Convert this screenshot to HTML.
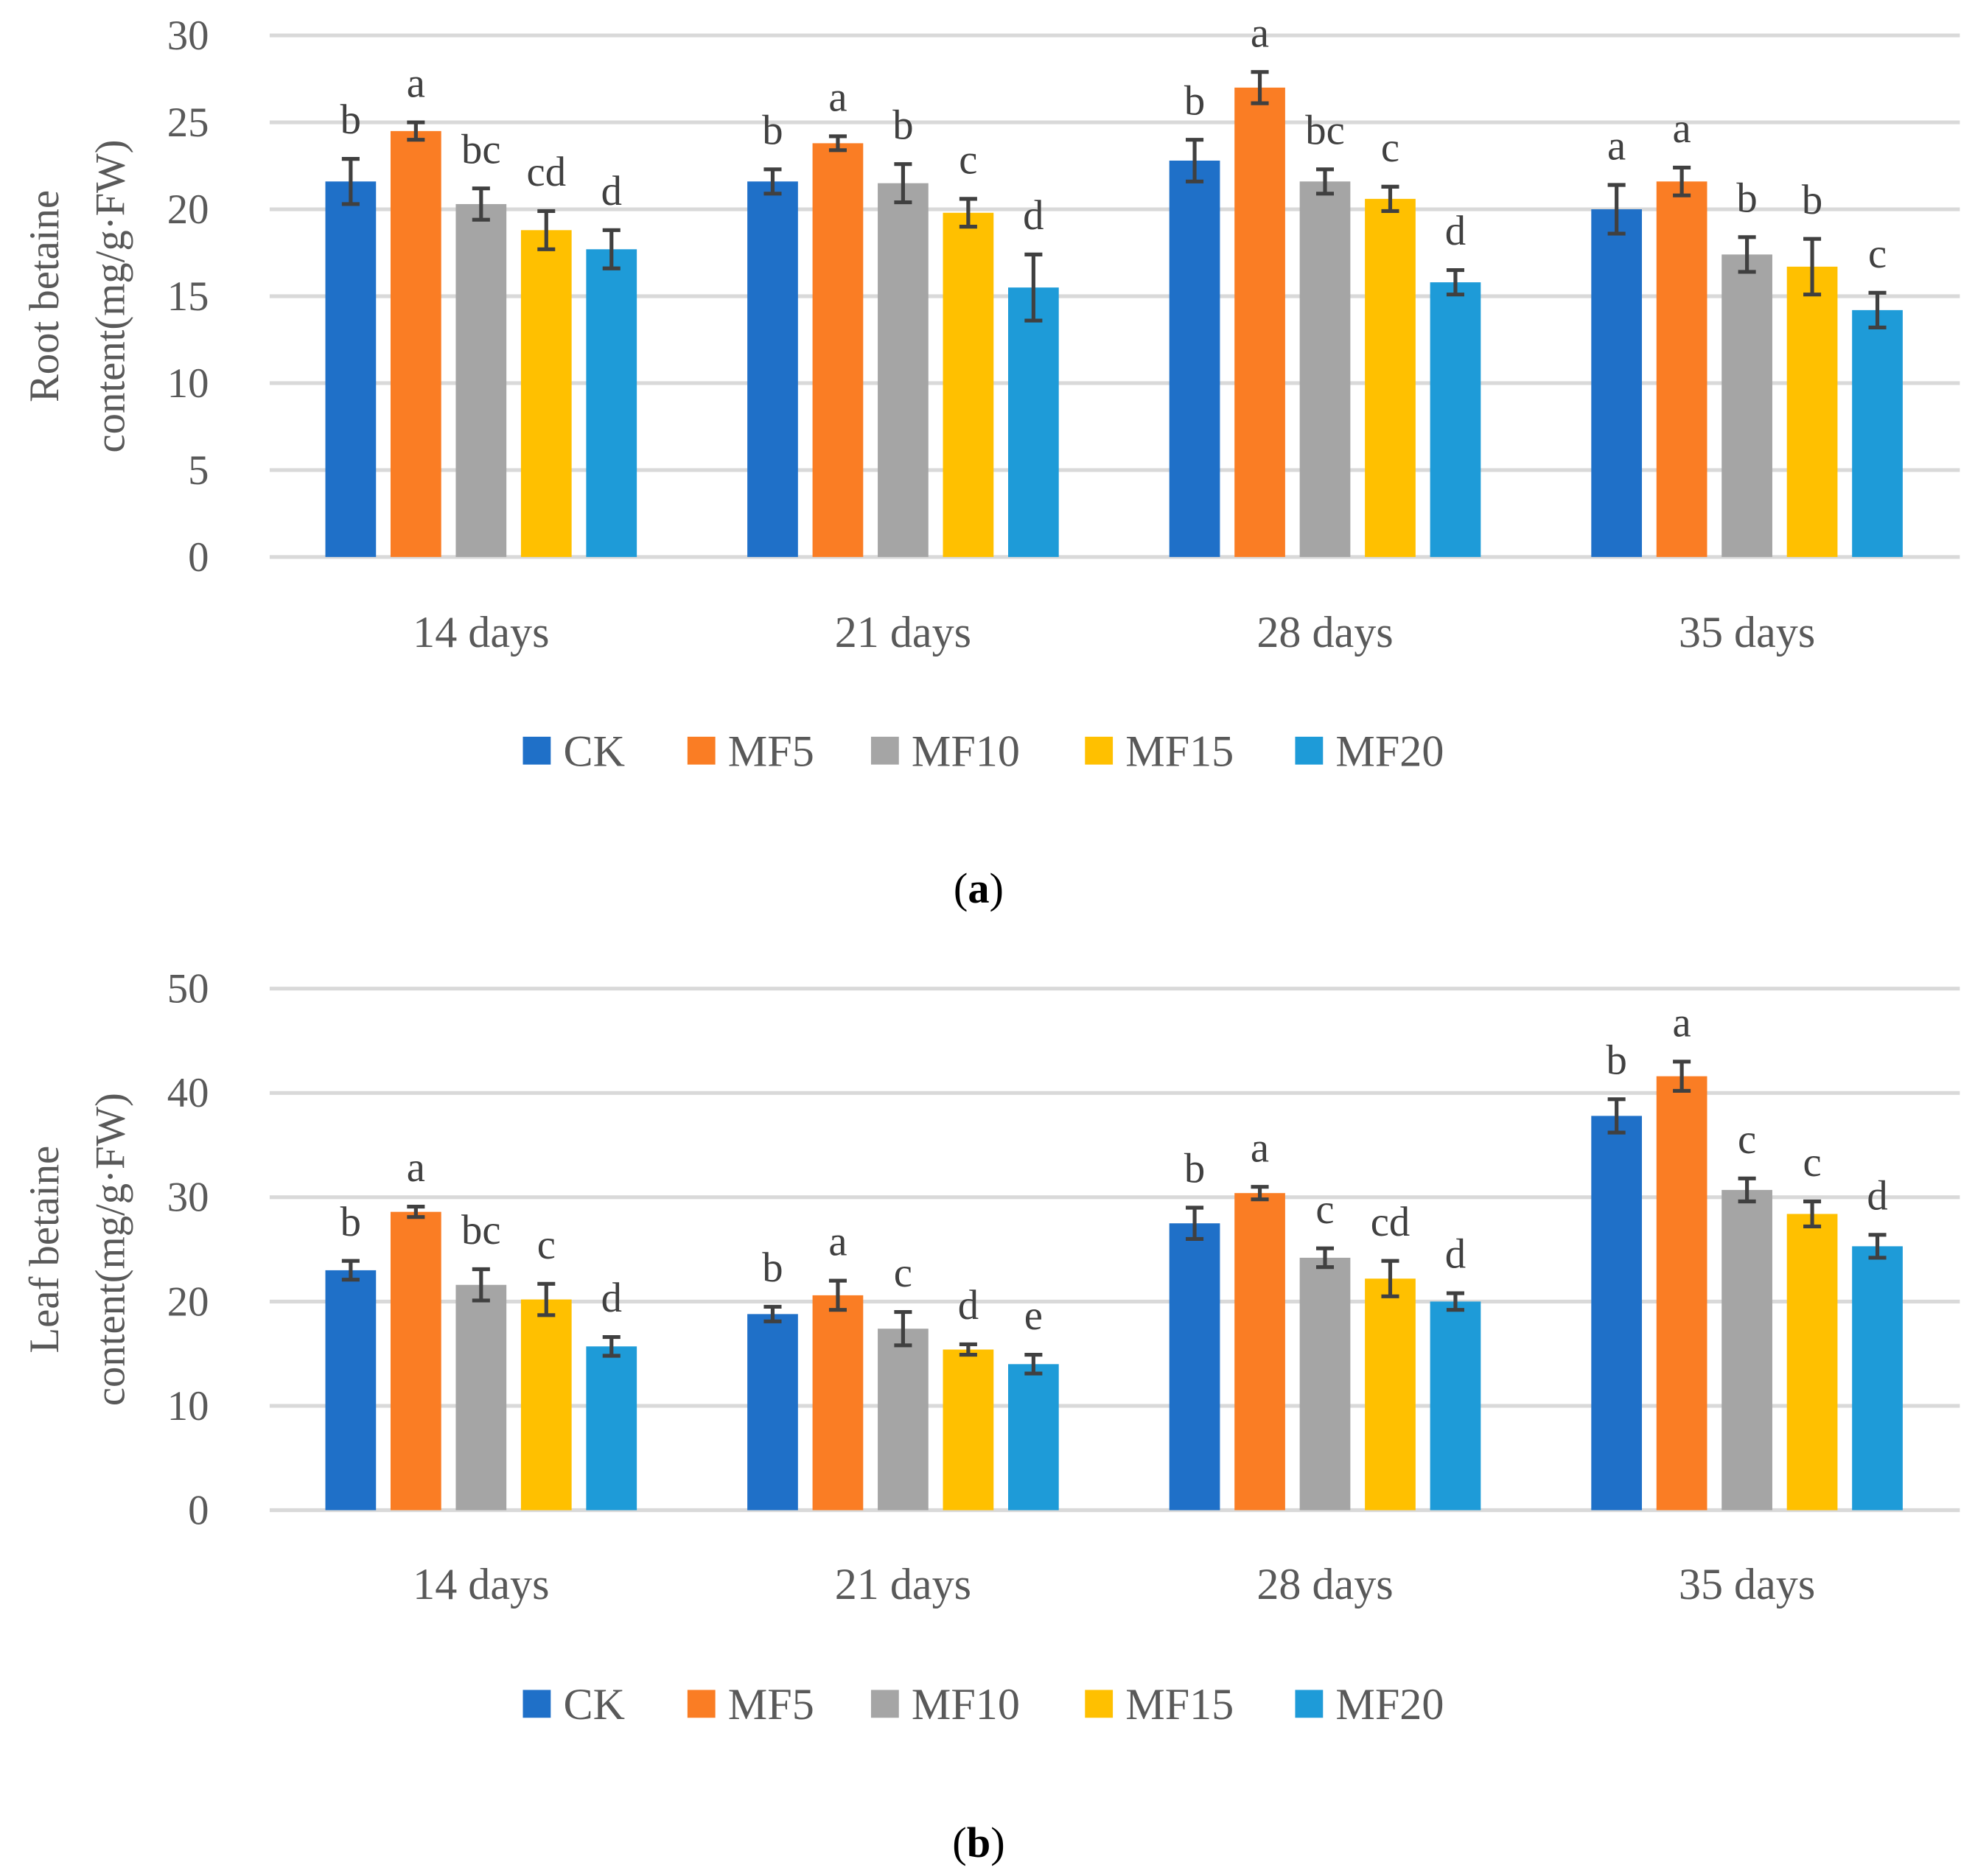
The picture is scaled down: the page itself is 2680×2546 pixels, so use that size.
<!DOCTYPE html>
<html><head><meta charset="utf-8"><style>
html,body{margin:0;padding:0;background:#fff}
svg{display:block}
text{font-family:"Liberation Serif",serif}
</style></head><body>
<svg id="s" width="2680" height="2546" viewBox="0 0 1560 1482" preserveAspectRatio="none"></svg>
<script>
const categories=["14 days","21 days","28 days","35 days"];
const seriesNames=["CK","MF5","MF10","MF15","MF20"];
const colors=["#1F70C8","#FA7D24","#A5A5A5","#FFC000","#1E9BD8"];
const rootVals=[[21.6,24.5,20.3,18.8,17.7],[21.6,23.8,21.5,19.8,15.5],[22.8,27.0,21.6,20.6,15.8],[20.0,21.6,17.4,16.7,14.2]];
const rootErr=[[1.3,0.5,0.9,1.1,1.1],[0.7,0.4,1.1,0.8,1.9],[1.2,0.9,0.7,0.7,0.7],[1.4,0.8,1.0,1.6,1.0]];
const rootLetters=[["b","a","bc","cd","d"],["b","a","b","c","d"],["b","a","bc","c","d"],["a","a","b","b","c"]];
const rootTicks=[0,5,10,15,20,25,30];
const leafVals=[[23.0,28.6,21.6,20.2,15.7],[18.8,20.6,17.4,15.4,14.0],[27.5,30.4,24.2,22.2,20.0],[37.8,41.6,30.7,28.4,25.3]];
const leafErr=[[0.9,0.5,1.5,1.5,0.9],[0.7,1.4,1.6,0.5,0.9],[1.5,0.6,0.9,1.7,0.8],[1.6,1.4,1.1,1.2,1.1]];
const leafLetters=[["b","a","bc","c","d"],["b","a","c","d","e"],["b","a","c","cd","d"],["b","a","c","c","d"]];
const leafTicks=[0,10,20,30,40,50];

const svg=document.getElementById('s');
const NS="http://www.w3.org/2000/svg";
function mk(tag,attrs,txt){const e=document.createElementNS(NS,tag);for(const k in attrs)e.setAttribute(k,attrs[k]);if(txt!==undefined)e.textContent=txt;svg.appendChild(e);return e;}

function chart(p){
  const y=v=>p.y0-(v/p.max)*(p.y0-p.yTop);
  const gx=i=>380+i*333.3;
  p.ticks.forEach(t=>{
    const l=mk('line',{x1:213,x2:1548,y1:y(t),y2:y(t),stroke:'#D9D9D9','stroke-width':3});
    
    
    const tx=mk('text',{x:165,y:y(t)+11,'text-anchor':'end','font-size':33,fill:'#595959'},t);
    
    
  });
  categories.forEach((c,i)=>{
    const tx=mk('text',{x:gx(i),y:p.catY,'text-anchor':'middle','font-size':35,fill:'#595959'},c);
    
    
    p.vals[i].forEach((v,j)=>{
      const cx=gx(i)+(j-2)*51.5;
      const r=mk('rect',{x:cx-20,y:y(v),width:40,height:y(0)-y(v),fill:colors[j]});
      
      
      const e=p.err[i][j],t=y(v+e),b=y(v-e);
      const el=mk('path',{d:`M${cx},${t}V${b}M${cx-7},${t}H${cx+7}M${cx-7},${b}H${cx+7}`,stroke:'#404040','stroke-width':3,fill:'none'});
      
      
      const lt=mk('text',{x:cx,y:t-20,'text-anchor':'middle','font-size':33,fill:'#404040'},p.letters[i][j]);
      
      
    });
  });
  const legX=[413,543,688,857,1023];
  seriesNames.forEach((n,j)=>{
    const r=mk('rect',{x:legX[j],y:p.legY-11,width:22,height:22,fill:colors[j]});
    
    
    const t=mk('text',{x:legX[j]+32,y:p.legY+12,'font-size':35,fill:'#595959'},n);
    
    
  });
  const yc=(p.y0+p.yTop)/2;
  const t1=mk('text',{x:0,y:0,'text-anchor':'middle','font-size':33,fill:'#595959',transform:`translate(46,${yc}) rotate(-90)`},p.t1);
  
  
  const t2=mk('text',{x:0,y:0,'text-anchor':'middle','font-size':33,fill:'#595959',transform:`translate(98,${yc}) rotate(-90)`},'content(mg/g·FW)');
  
  
  const cap=mk('text',{x:773,y:p.capY,'text-anchor':'middle','font-size':34,fill:'#000'});
  
  
  cap.innerHTML=`(<tspan font-weight="bold">${p.cap}</tspan>)`;
}
chart({y0:440,yTop:28,max:30,ticks:rootTicks,vals:rootVals,err:rootErr,letters:rootLetters,catY:511,legY:593,t1:'Root betaine',capY:713,cap:'a'});
chart({y0:1193,yTop:781,max:50,ticks:leafTicks,vals:leafVals,err:leafErr,letters:leafLetters,catY:1263,legY:1346,t1:'Leaf betaine',capY:1467,cap:'b'});
</script>
</body></html>
